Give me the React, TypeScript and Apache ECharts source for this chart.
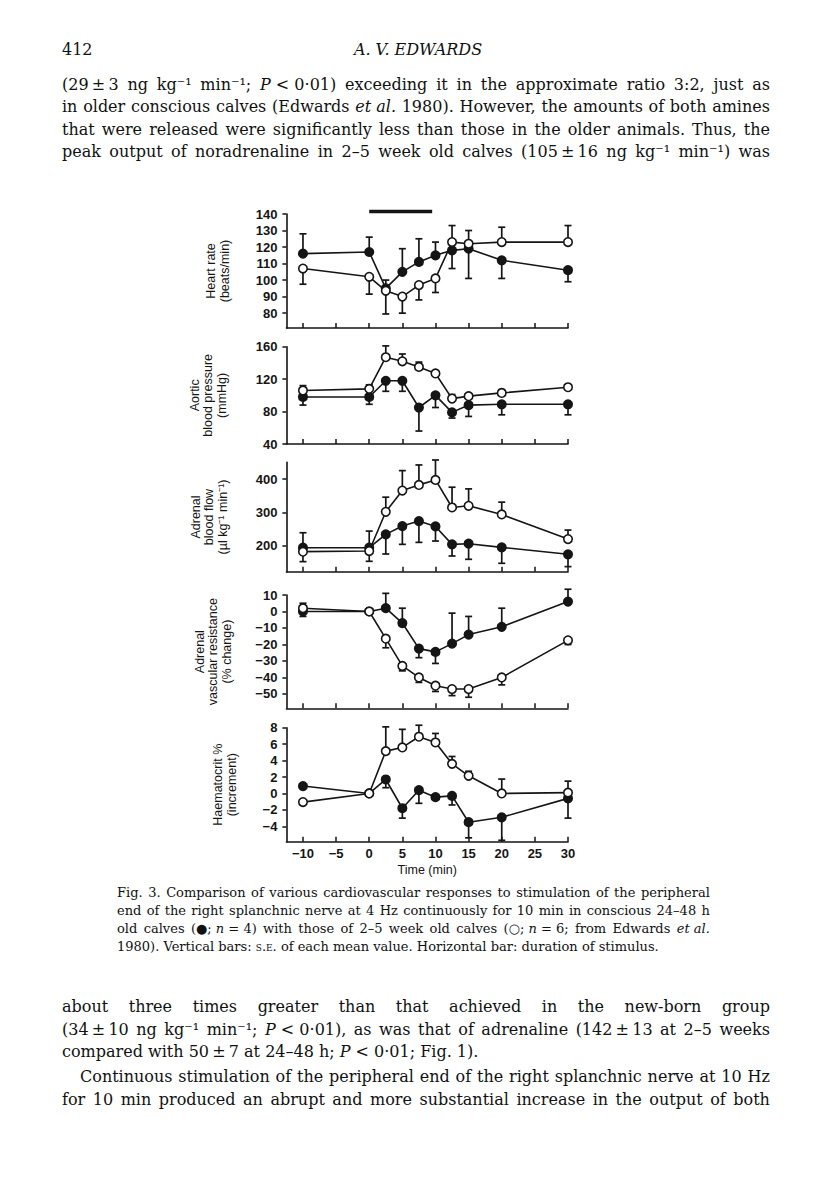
import React, { useEffect, useRef } from "react";
import * as echarts from "echarts";

// ---------- data ----------
const times = [-10, 0, 2.5, 5, 7.5, 10, 12.5, 15, 20, 30];
const xTicks = [-10, -5, 0, 5, 10, 15, 20, 25, 30];

// Heart rate (beats/min)
const hrNewborn = [116, 117, 95, 105, 111, 115, 118, 119, 112, 106];
const hrNewbornSE = [128, 126, 100, 119, 125, 123, 107, 101, 101, 99];
const hrOlder = [107, 102, 93.5, 90, 97, 101, 123, 122, 123, 123];
const hrOlderSE = [97.5, 91.5, 79.5, 80, 88, 92.5, 133, 130, 132, 133];
const hrTicks = [80, 90, 100, 110, 120, 130, 140];

// Aortic blood pressure (mmHg)
const bpNewborn = [98, 98, 118, 118, 85, 100, 79, 88, 89, 89];
const bpNewbornSE = [88, 89, 105, 105, 56, 85, 72, 74, 76, 76];
const bpOlder = [106, 108, 147, 142, 135, 127, 96, 99, 103, 110];
const bpOlderSE = [112, 113, 161, 151, 141, 130, 101, 101, 107, 112];
const bpTicks = [40, 80, 120, 160];

// Adrenal blood flow (µl kg-1 min-1)
const flowNewborn = [194, 194, 234, 259, 274, 258, 204, 206, 195, 174];
const flowNewbornSE = [239, 244, 175, 204, 210, 214, 169, 159, 147, 137];
const flowOlder = [182, 184, 302, 366, 383, 398, 315, 320, 294, 220];
const flowOlderSE = [152, 153, 346, 426, 443, 458, 376, 371, 331, 247];
const flowTicks = [200, 300, 400];

// Adrenal vascular resistance (% change)
const resNewborn = [0, 0, 2, -7, -22.5, -24.5, -19.5, -14, -9.3, 6];
const resNewbornSE = [-3, 0, 11, 2, -28, -31.5, -1, -3, 2, 13.5];
const resOlder = [2, 0, -16.5, -33, -40, -45, -47, -47, -40, -17.5];
const resOlderSE = [5, 0, -22, -36, -43, -48.5, -51, -52, -44.5, -20];
const resTicks = [10, 0, -10, -20, -30, -40, -50];

// Haematocrit % (increment)
const hctNewborn = [0.9, 0, 1.7, -1.8, 0.4, -0.45, -0.3, -3.5, -2.9, -0.6];
const hctNewbornSE = [0.9, 0, 0.7, -3, -1.2, -0.6, -1.4, -5.4, -5.7, -3];
const hctOlder = [-1.05, 0, 5.15, 5.6, 6.9, 6.2, 3.6, 2.15, 0, 0.1];
const hctOlderSE = [-1.05, 0, 8.1, 7.8, 8.3, 7.3, 4.5, 2.7, 1.75, 1.5];
const hctTicks = [8, 6, 4, 2, 0, -2, -4];

// stimulus duration (min) and bar level (beats/min)
const stimulus = [0, 9.5];
const stimulusLevel = 141.5;

// ---------- layout ----------
const INK = "#151515";
const panels = [
  { name: "Heart rate\n(beats/min)", min: 71, max: 140, ticks: hrTicks, nb: hrNewborn, nbSE: hrNewbornSE, old: hrOlder, oldSE: hrOlderSE, top: 214, height: 114, gap: 55 },
  { name: "Aortic\nblood pressure\n(mmHg)", min: 40, max: 160, ticks: bpTicks, nb: bpNewborn, nbSE: bpNewbornSE, old: bpOlder, oldSE: bpOlderSE, top: 346.7, height: 97.3, gap: 58 },
  { name: "Adrenal\nblood flow\n(µl kg⁻¹ min⁻¹)", min: 121.7, max: 451, ticks: flowTicks, nb: flowNewborn, nbSE: flowNewbornSE, old: flowOlder, oldSE: flowOlderSE, top: 462.3, height: 109.4, gap: 57 },
  { name: "Adrenal\nvascular resistance\n(% change)", min: -58.7, max: 10, ticks: resTicks, nb: resNewborn, nbSE: resNewbornSE, old: resOlder, oldSE: resOlderSE, top: 595, height: 113.3, gap: 53 },
  { name: "Haematocrit %\n(increment)", min: -5.87, max: 8, ticks: hctTicks, nb: hctNewborn, nbSE: hctNewbornSE, old: hctOlder, oldSE: hctOlderSE, top: 727.7, height: 114, gap: 48 },
];

const minus = (v: number) => String(v).replace("-", "\u2212");

function errorSeries(idx: number, vals: number[], ends: number[], z: number) {
  return {
    type: "custom",
    xAxisIndex: idx,
    yAxisIndex: idx,
    clip: false,
    z,
    silent: true,
    data: times.map((t, i) => [t, vals[i], ends[i]]),
    renderItem: (_p: any, api: any) => {
      const a = api.coord([api.value(0), api.value(1)]);
      const b = api.coord([api.value(0), api.value(2)]);
      if (Math.abs(b[1] - a[1]) < 1) return { type: "group", children: [] };
      const st = { stroke: INK, lineWidth: 1.7 };
      return {
        type: "group",
        children: [
          { type: "line", shape: { x1: a[0], y1: a[1], x2: b[0], y2: b[1] }, style: st },
          { type: "line", shape: { x1: b[0] - 3.5, y1: b[1], x2: b[0] + 3.5, y2: b[1] }, style: st },
        ],
      };
    },
  };
}

function lineSeries(idx: number, vals: number[], filled: boolean, z: number) {
  return {
    type: "line",
    xAxisIndex: idx,
    yAxisIndex: idx,
    z,
    data: times.map((t, i) => [t, vals[i]]),
    symbol: "circle",
    symbolSize: 8.5,
    lineStyle: { color: INK, width: 1.6 },
    itemStyle: { color: filled ? INK : "#ffffff", borderColor: INK, borderWidth: 1.6 },
  };
}

function buildOption() {
  const labelFont = { fontFamily: "'Liberation Sans', Arial, sans-serif", fontSize: 13, fontWeight: "bold" as const, color: INK };
  const nameFont = { fontFamily: "'Liberation Sans', Arial, sans-serif", fontSize: 12.5, lineHeight: 13.5, color: INK };
  const series: any[] = [];
  panels.forEach((p, i) => {
    series.push(errorSeries(i, p.nb, p.nbSE, 2));
    series.push(errorSeries(i, p.old, p.oldSE, 2));
    series.push(lineSeries(i, p.nb, true, 3));
    series.push(lineSeries(i, p.old, false, 4));
  });
  series.push({
    type: "line",
    xAxisIndex: 0,
    yAxisIndex: 0,
    clip: false,
    symbol: "none",
    data: stimulus.map((t) => [t, stimulusLevel]),
    lineStyle: { color: INK, width: 3.5 },
    z: 5,
  });
  return {
    animation: false,
    backgroundColor: "transparent",
    grid: panels.map((p) => ({ left: 286.4, width: 281.6, top: p.top, height: p.height, containLabel: false, outerBoundsMode: "none" })),
    xAxis: panels.map((_p, i) => ({
      type: "value",
      gridIndex: i,
      min: -12.5,
      max: 30,
      name: i === 4 ? "Time (min)" : "",
      nameLocation: "middle",
      nameGap: 22,
      nameTextStyle: nameFont,
      axisLine: { show: true, onZero: false, lineStyle: { color: INK, width: 1.6 } },
      axisTick: { show: true, inside: true, length: 5, customValues: xTicks, lineStyle: { color: INK, width: 1.5 } },
      axisLabel: { show: i === 4, customValues: xTicks, formatter: minus, margin: 5, ...labelFont },
      splitLine: { show: false },
    })),
    yAxis: panels.map((p, i) => ({
      type: "value",
      gridIndex: i,
      min: p.min,
      max: p.max,
      name: p.name,
      nameLocation: "middle",
      nameRotate: 90,
      nameGap: p.gap,
      nameTextStyle: nameFont,
      axisLine: { show: true, onZero: false, lineStyle: { color: INK, width: 1.6 } },
      axisTick: { show: true, inside: false, length: 4, customValues: p.ticks, lineStyle: { color: INK, width: 1.5 } },
      axisLabel: { show: true, customValues: p.ticks, formatter: minus, margin: 9, ...labelFont },
      splitLine: { show: false },
    })),
    series,
  };
}

// ---------- page text ----------
const topLines = [
  "(29\u2009±\u20093 ng kg⁻¹ min⁻¹; *P*\u00a0<\u00a00·01) exceeding it in the approximate ratio 3:2, just as",
  "in older conscious calves (Edwards *et*\u00a0*al.* 1980). However, the amounts of both amines",
  "that were released were significantly less than those in the older animals. Thus, the",
  "peak output of noradrenaline in 2–5 week old calves (105\u2009±\u200916 ng kg⁻¹ min⁻¹) was",
];
const captionLines = [
  "Fig. 3. Comparison of various cardiovascular responses to stimulation of the peripheral",
  "end of the right splanchnic nerve at 4 Hz continuously for 10 min in conscious 24–48 h",
  "old calves (●;\u00a0*n*\u00a0=\u00a04) with those of 2–5 week old calves (○;\u00a0*n*\u00a0=\u00a06; from Edwards *et*\u00a0*al.*",
  "1980). Vertical bars: ^s.e.^ of each mean value. Horizontal bar: duration of stimulus.",
];
const bottomLines = [
  "about three times greater than that achieved in the new-born group",
  "(34\u2009±\u200910 ng kg⁻¹ min⁻¹; *P*\u00a0<\u00a00·01), as was that of adrenaline (142\u2009±\u200913 at 2–5 weeks",
  "compared with 50\u2009±\u20097 at 24–48 h; *P*\u00a0<\u00a00·01; Fig. 1).",
  "Continuous stimulation of the peripheral end of the right splanchnic nerve at 10 Hz",
  "for 10 min produced an abrupt and more substantial increase in the output of both",
];

function renderWord(w: string) {
  const parts = w.split(/(\*[^*]*\*|\^[^^]*\^)/).filter((s) => s.length > 0);
  return parts.map((p, i) => {
    if (p.startsWith("*") && p.endsWith("*") && p.length > 1) return <i key={i}>{p.slice(1, -1)}</i>;
    if (p.startsWith("^") && p.endsWith("^") && p.length > 1)
      return (
        <span key={i} style={{ fontVariant: "small-caps" }}>
          {p.slice(1, -1)}
        </span>
      );
    return <React.Fragment key={i}>{p}</React.Fragment>;
  });
}

function TextLine(props: { text: string; x: number; y: number; width: number; size: number; justify: boolean }) {
  const { text, x, y, width, size, justify } = props;
  const lh = Math.round(size * 1.4);
  const style: React.CSSProperties = {
    position: "absolute",
    left: x,
    top: y - lh / 2,
    width,
    fontSize: size,
    lineHeight: `${lh}px`,
    whiteSpace: "nowrap",
    fontFamily: "'DejaVu Serif', serif",
    color: "#111",
  };
  const words = text.split(" ");
  if (justify) {
    return (
      <div style={{ ...style, display: "flex", justifyContent: "space-between" }}>
        {words.map((w, i) => (
          <span key={i}>{renderWord(w)}</span>
        ))}
      </div>
    );
  }
  return (
    <div style={style}>
      {words.map((w, i) => (
        <React.Fragment key={i}>
          {i > 0 ? " " : ""}
          <span>{renderWord(w)}</span>
        </React.Fragment>
      ))}
    </div>
  );
}

export default function App() {
  const ref = useRef<HTMLDivElement | null>(null);
  useEffect(() => {
    if (!ref.current) return;
    const chart = echarts.init(ref.current, undefined, { renderer: "svg" });
    chart.setOption(buildOption() as any);
    return () => chart.dispose();
  }, []);

  const bodyX = 62;
  const bodyW = 708;
  const capX = 117;
  const capW = 593;

  return (
    <div style={{ position: "absolute", left: 0, top: 0, width: 816, height: 1203, background: "#fff", overflow: "hidden" }}>
      <div ref={ref} style={{ position: "absolute", left: 0, top: 0, width: 816, height: 1203 }} />
      <TextLine text="412" x={62} y={50} width={60} size={16} justify={false} />
      <div
        style={{
          position: "absolute",
          left: 268,
          top: 39,
          width: 300,
          textAlign: "center",
          fontFamily: "'DejaVu Serif', serif",
          fontStyle: "italic",
          fontSize: 16,
          lineHeight: "22px",
          color: "#111",
        }}
      >
        A. V. EDWARDS
      </div>
      {topLines.map((t, i) => (
        <TextLine key={"t" + i} text={t} x={bodyX} y={85 + i * 22.3} width={bodyW} size={16} justify={true} />
      ))}
      {captionLines.map((t, i) => (
        <TextLine key={"c" + i} text={t} x={capX} y={893 + i * 18} width={capW} size={13} justify={i < 3} />
      ))}
      {bottomLines.map((t, i) => (
        <TextLine
          key={"b" + i}
          text={t}
          x={i === 3 ? bodyX + 18 : bodyX}
          y={[1007, 1029.5, 1052, 1077, 1099.5][i]}
          width={i === 3 ? bodyW - 18 : bodyW}
          size={16}
          justify={i !== 2}
        />
      ))}
    </div>
  );
}
